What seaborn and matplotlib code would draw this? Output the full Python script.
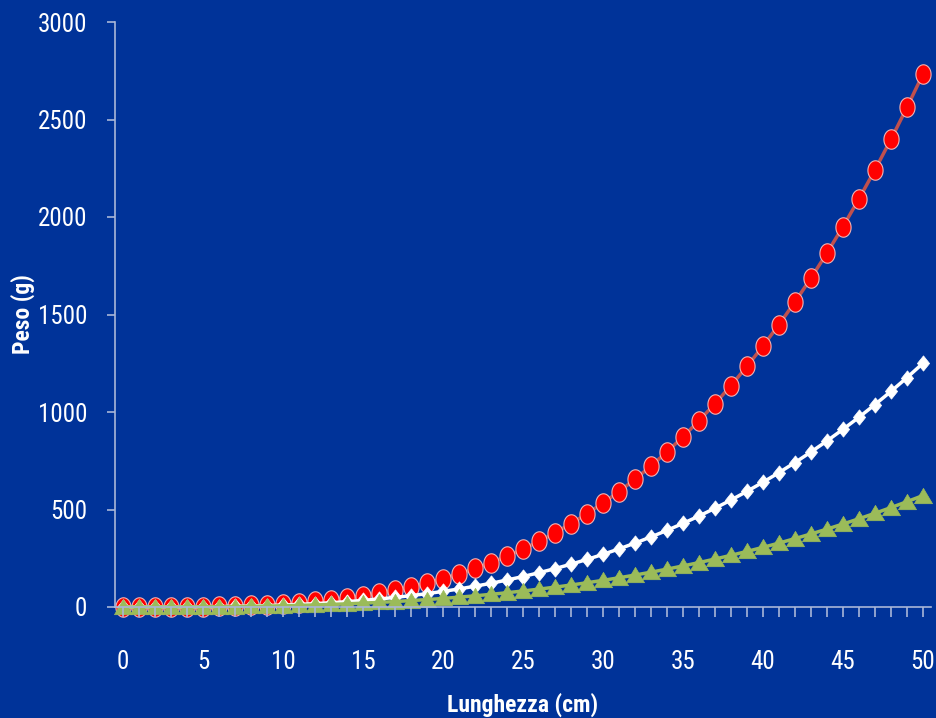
import numpy as np
import pandas as pd
import matplotlib
matplotlib.use("Agg")
import matplotlib.pyplot as plt
from matplotlib import font_manager
from matplotlib.path import Path
from matplotlib.ticker import MultipleLocator
import seaborn as sns

# Lunghezza (cm)
lunghezza = list(range(0, 51))

# Peso (g) per le tre serie
peso_rosso = [0, 0.01, 0.09, 0.34, 0.84, 1.72, 3.09, 5.06, 7.76, 11.31,
              15.85, 21.50, 28.41, 36.70, 46.52, 58.01, 71.32, 86.58, 103.96, 123.60,
              145.65, 170.26, 197.58, 227.78, 261.01, 297.45, 337.21, 380.51, 427.47, 478.27,
              533.09, 592.04, 655.36, 723.16, 795.67, 872.97, 955.37, 1042.9, 1135.8, 1234.2,
              1338.4, 1448.4, 1564.7, 1686.9, 1815.7, 1951.1, 2093.2, 2242.2, 2398.6, 2562.3,
              2733.4]
peso_bianco = [0, 0.01, 0.08, 0.27, 0.64, 1.25, 2.16, 3.43, 5.12, 7.29,
               10.0, 13.31, 17.28, 21.97, 27.44, 33.75, 40.96, 49.13, 58.32, 68.59,
               80.0, 92.61, 106.48, 121.67, 138.24, 156.25, 175.76, 196.83, 219.52, 243.89,
               270.0, 297.91, 327.68, 359.37, 393.04, 428.75, 466.56, 506.53, 548.72, 593.19,
               640.0, 689.21, 740.88, 795.07, 851.84, 911.25, 973.36, 1038.2, 1105.9, 1176.5,
               1250.0]
peso_verde = [0, 0.01, 0.07, 0.22, 0.49, 0.91, 1.51, 2.32, 3.38, 4.70,
              6.31, 8.24, 10.51, 13.15, 16.19, 19.64, 23.53, 27.88, 32.72, 38.06,
              43.94, 50.38, 57.38, 64.99, 73.22, 82.08, 91.61, 101.8, 112.7, 124.4,
              136.7, 149.9, 163.8, 178.6, 194.2, 210.6, 227.8, 246.0, 265.1, 285.1,
              306.0, 327.9, 350.8, 374.7, 399.6, 425.6, 452.6, 480.7, 509.9, 540.2,
              571.6]

x_ticks = list(range(0, 51, 5))
y_ticks = list(range(0, 3001, 500))

sns.set_theme(style="white")


def has_regular(name):
    for f in font_manager.fontManager.ttflist:
        if f.name == name and f.weight in (400, "normal", "regular", "book") \
                and f.style == "normal":
            return True
    return False


family = "DejaVu Sans"
for cand in ["Liberation Sans Narrow", "DejaVu Sans Condensed", "Roboto Condensed",
             "Open Sans Condensed", "Lato"]:
    if has_regular(cand):
        family = cand
        break
plt.rcParams["font.family"] = [family, "DejaVu Sans"]

BG = "#003399"
AXIS = "#a9b6d8"

fig = plt.figure(figsize=(9.36, 7.18), dpi=100, facecolor=BG)
ax = fig.add_axes([115 / 936, 111 / 718, 816 / 936, 585 / 718])
ax.set_facecolor(BG)

# narrow ellipse / diamond / triangle markers
t = np.linspace(0, 2 * np.pi, 60)
ellipse = Path(np.column_stack([0.78 * np.cos(t), np.sin(t)]), closed=True)
diamond = Path([(0, 1), (0.8, 0), (0, -1), (-0.8, 0), (0, 1)], closed=True)
triangle = Path([(-1, -0.8), (1, -0.8), (0, 0.9), (-1, -0.8)], closed=True)

df = pd.DataFrame({"L": lunghezza, "rosso": peso_rosso,
                   "bianco": peso_bianco, "verde": peso_verde})

sns.lineplot(data=df, x="L", y="rosso", ax=ax, color="#c0504d", linewidth=2.5,
             marker=ellipse, markersize=14, markerfacecolor="#ff0000",
             markeredgecolor="#f2b3b3", markeredgewidth=0.8, clip_on=False, zorder=2)
sns.lineplot(data=df, x="L", y="bianco", ax=ax, color="white", linewidth=2.5,
             marker=diamond, markersize=11, markerfacecolor="white",
             markeredgecolor="white", markeredgewidth=0.5, clip_on=False, zorder=2.1)
sns.lineplot(data=df, x="L", y="verde", ax=ax, color="#9bbb59", linewidth=2.5,
             marker=triangle, markersize=13, markerfacecolor="#9bbb59",
             markeredgecolor="#9bbb59", markeredgewidth=0.5, clip_on=False, zorder=2.2)

ax.set_xlim(-0.5, 50.5)
ax.set_ylim(0, 3000)
ax.set_xticks(x_ticks)
ax.set_xticklabels([str(v) for v in x_ticks])
ax.xaxis.set_minor_locator(MultipleLocator(1))
ax.set_yticks(y_ticks)
ax.set_yticklabels([str(v) for v in y_ticks])

for side in ["top", "right"]:
    ax.spines[side].set_visible(False)
for side in ["left", "bottom"]:
    ax.spines[side].set_color(AXIS)
    ax.spines[side].set_linewidth(1.2)
ax.set_axisbelow(False)

ax.tick_params(axis="x", which="both", direction="out", length=7, width=1.2,
               color=AXIS, labelcolor="white", labelsize=18, pad=24, bottom=True)
ax.tick_params(axis="y", which="major", direction="out", length=6, width=1.2,
               color=AXIS, labelcolor="white", labelsize=18, pad=14, left=True)
for lab in ax.get_xticklabels() + ax.get_yticklabels():
    lab.set_fontweight("normal")

ax.set_xlabel("Lunghezza (cm)", color="white", fontsize=17, fontweight="bold")
ax.set_ylabel("Peso (g)", color="white", fontsize=17, fontweight="bold")
ax.xaxis.set_label_coords(0.5, -0.168)
ax.xaxis.label.set_va("center")
ax.yaxis.set_label_coords(-0.113, 0.5)
ax.yaxis.label.set_va("center")
ax.grid(False)

fig.savefig("out.png", dpi=100, facecolor=BG)
